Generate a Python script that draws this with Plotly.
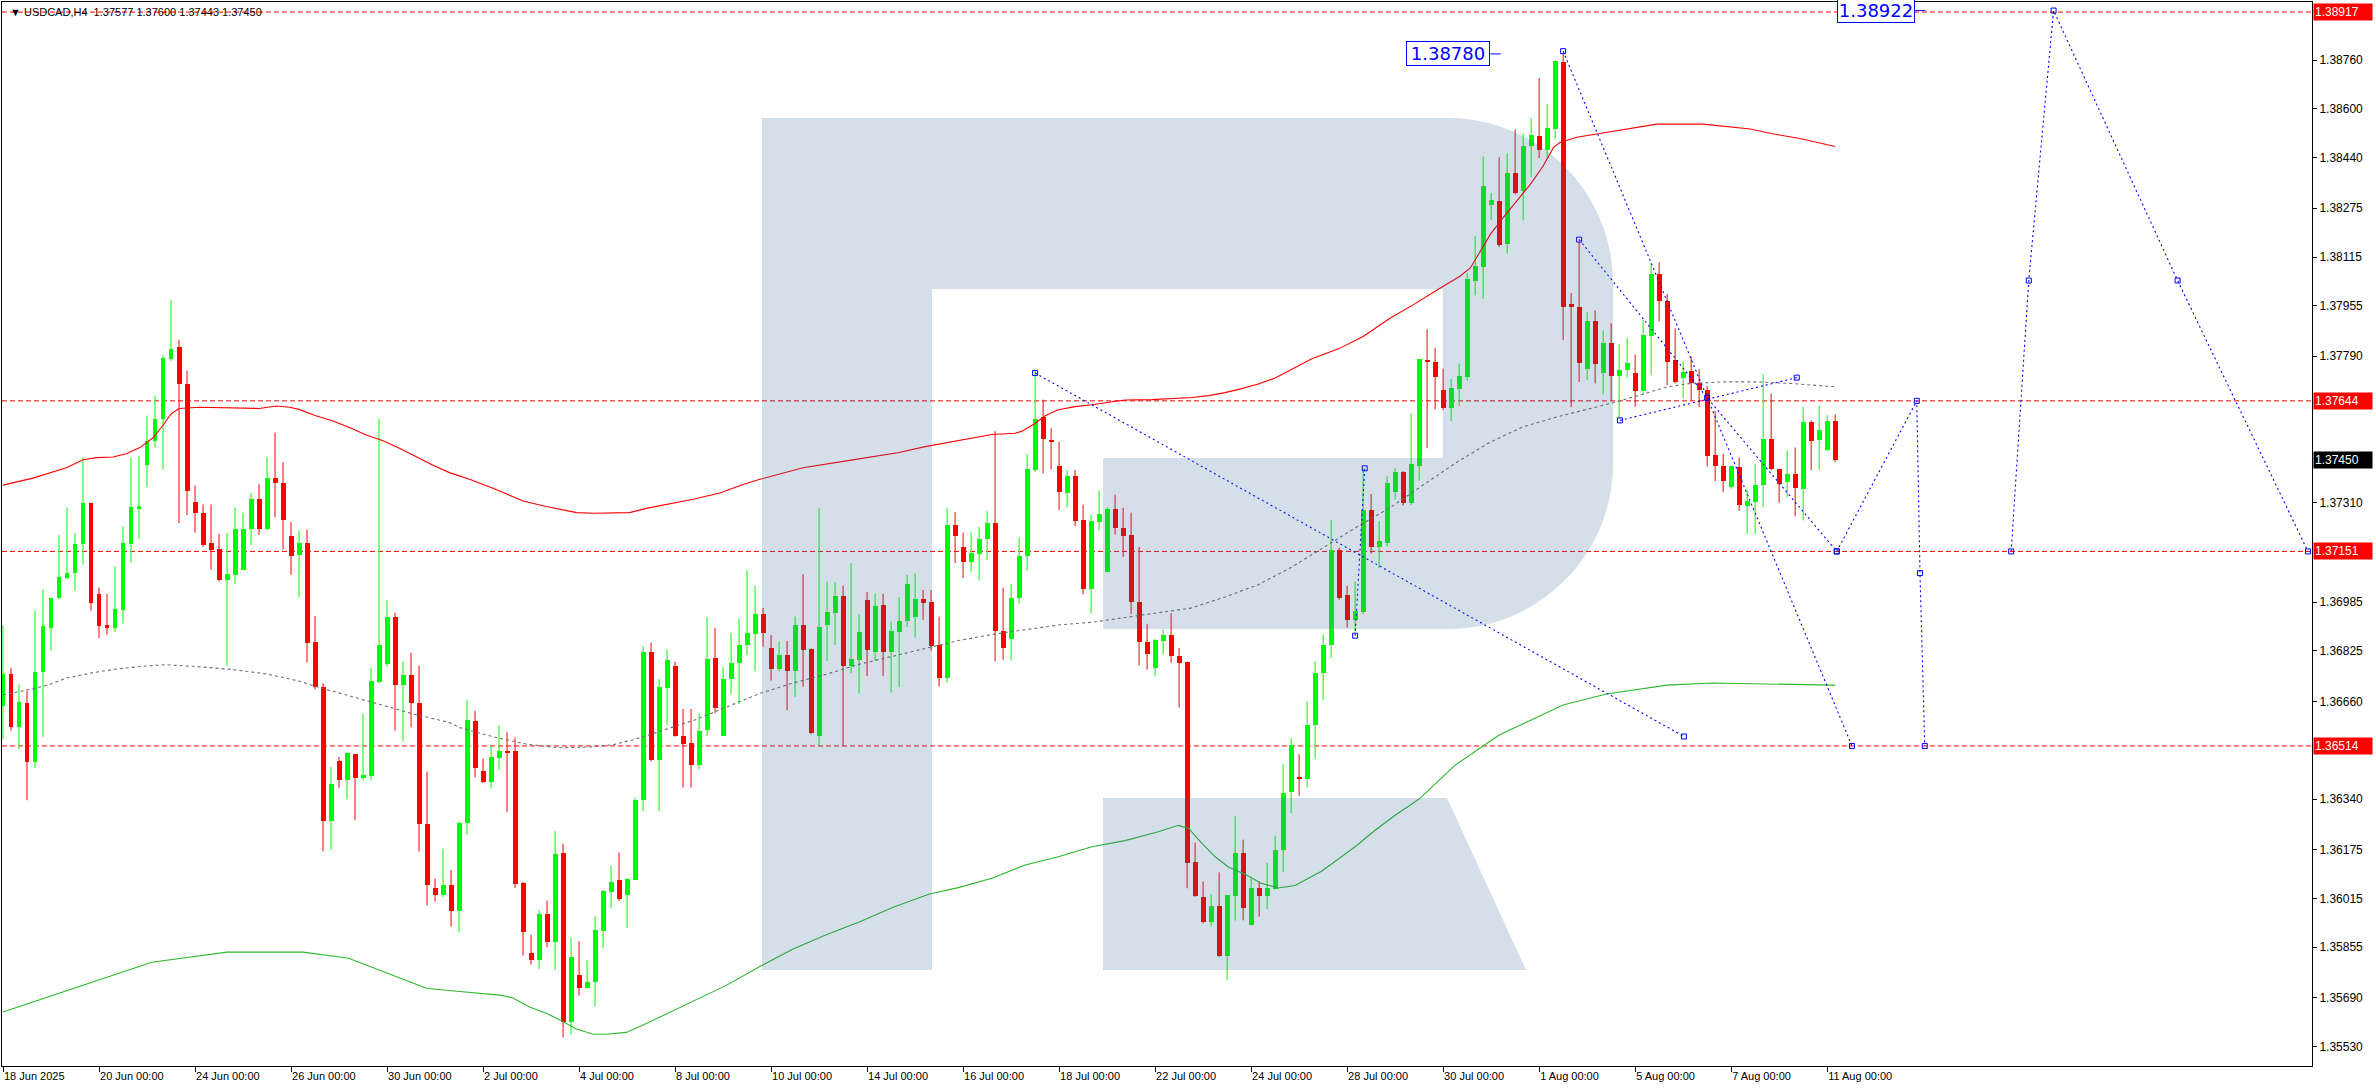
import plotly.graph_objects as go

# ---------------- DATA ----------------
opens = [1.36646,1.36750,1.36575,1.36653,1.36463,1.36757,1.36899,1.36998,1.37063,1.37080,
1.37176,1.37311,1.37012,1.36911,1.36899,1.36959,1.37176,1.37289,1.37433,1.37513,
1.37586,1.37781,1.37819,1.37698,1.37314,1.37277,1.37180,1.37159,1.37058,1.37074,
1.37091,1.37223,1.37321,1.37223,1.37390,1.37376,1.37202,1.37139,1.37180,1.36853,
1.36706,1.36267,1.36466,1.36401,1.36488,1.36409,1.36416,1.36722,1.36782,1.36937,
1.36715,1.36747,1.36653,1.36257,1.36049,1.36025,1.36058,1.35974,1.36261,1.36596,
1.36433,1.36395,1.36476,1.36499,1.36499,1.36064,1.35835,1.35813,1.35965,1.35873,
1.36164,1.35609,1.35763,1.35722,1.35742,1.35908,1.36036,1.36074,1.36026,1.36075,
1.36336,1.36822,1.36469,1.36704,1.36777,1.36547,1.36524,1.36453,1.36565,1.36803,
1.36547,1.36732,1.36784,1.36843,1.36882,1.36947,1.36835,1.36765,1.36812,1.36761,
1.36910,1.36830,1.36545,1.36909,1.36950,1.37005,1.36776,1.36797,1.36992,1.36823,
1.36975,1.36820,1.36888,1.36924,1.36935,1.36995,1.36986,1.36846,1.36735,1.37238,
1.37165,1.37115,1.37141,1.37191,1.37244,1.36891,1.36865,1.36998,1.37135,1.37419,
1.37591,1.37517,1.37431,1.37341,1.37398,1.37255,1.37029,1.37247,1.37085,1.37291,
1.37228,1.37206,1.36986,1.36855,1.36768,1.36859,1.36878,1.36807,1.36790,1.36135,
1.36020,1.35939,1.35990,1.35827,1.36024,1.36164,1.35929,1.36050,1.36022,1.36046,
1.36172,1.36362,1.36413,1.36407,1.36582,1.36752,1.36843,1.37156,1.37009,1.36926,
1.36953,1.37287,1.37167,1.37180,1.37345,1.37411,1.37309,1.37432,1.37777,1.37772,
1.37681,1.37622,1.37682,1.37722,1.38038,1.38083,1.38284,1.38299,1.38156,1.38391,
1.38330,1.38478,1.38510,1.38465,1.38534,1.38753,1.37961,1.37950,1.37748,1.37905,
1.37736,1.37832,1.37725,1.37745,1.37734,1.37676,1.37857,1.38059,1.37972,1.37777,
1.37720,1.37742,1.37703,1.37681,1.37468,1.37432,1.37361,1.37429,1.37301,1.37312,
1.37369,1.37520,1.37421,1.37378,1.37405,1.37354,1.37575,1.37515,1.37484,1.37577]

highs = [1.36908,1.36770,1.36715,1.36695,1.36957,1.37026,1.36998,1.37205,1.37295,1.37212,
1.37460,1.37311,1.37033,1.37012,1.37102,1.37233,1.37458,1.37463,1.37596,1.37661,
1.37792,1.37974,1.37844,1.37743,1.37367,1.37305,1.37305,1.37209,1.37212,1.37295,
1.37278,1.37343,1.37371,1.37460,1.37540,1.37443,1.37247,1.37220,1.37222,1.36939,
1.36719,1.36445,1.36478,1.36492,1.36488,1.36619,1.36770,1.37585,1.36991,1.36950,
1.36791,1.36819,1.36777,1.36430,1.36080,1.36177,1.36108,1.36267,1.36665,1.36629,
1.36473,1.36514,1.36582,1.36559,1.36542,1.36069,1.35896,1.35976,1.36007,1.36235,
1.36194,1.35887,1.35875,1.35812,1.35956,1.36043,1.36122,1.36165,1.36081,1.36344,
1.36841,1.36852,1.36734,1.36829,1.36790,1.36635,1.36635,1.36620,1.36936,1.36900,
1.36772,1.36884,1.36932,1.37090,1.37039,1.36966,1.36877,1.36856,1.36858,1.36938,
1.37076,1.36833,1.37292,1.37052,1.37050,1.37039,1.37112,1.36945,1.37018,1.37012,
1.37012,1.36921,1.37001,1.37074,1.37079,1.37025,1.37025,1.36937,1.37294,1.37280,
1.37212,1.37214,1.37231,1.37284,1.37545,1.37032,1.37045,1.37196,1.37470,1.37742,
1.37648,1.37554,1.37510,1.37418,1.37418,1.37304,1.37272,1.37351,1.37295,1.37337,
1.37294,1.37278,1.37165,1.36914,1.36865,1.36895,1.36948,1.36835,1.36790,1.36197,
1.36070,1.36028,1.36100,1.36026,1.36284,1.36207,1.36081,1.36070,1.36131,1.36220,
1.36454,1.36540,1.36487,1.36659,1.36791,1.36879,1.37254,1.37163,1.37038,1.37052,
1.37423,1.37339,1.37250,1.37397,1.37424,1.37414,1.37602,1.37780,1.37879,1.37818,
1.37750,1.37715,1.37766,1.38063,1.38183,1.38444,1.38325,1.38441,1.38454,1.38533,
1.38520,1.38570,1.38701,1.38616,1.38756,1.38780,1.37997,1.38165,1.37934,1.37940,
1.37875,1.37898,1.37829,1.37850,1.37796,1.37909,1.38094,1.38098,1.37994,1.37882,
1.37774,1.37789,1.37747,1.37692,1.37610,1.37471,1.37432,1.37459,1.37354,1.37438,
1.37731,1.37668,1.37421,1.37482,1.37491,1.37624,1.37580,1.37628,1.37597,1.37600]

lows = [1.36536,1.36564,1.36504,1.36336,1.36442,1.36543,1.36826,1.36994,1.37060,1.37022,
1.37108,1.36957,1.36867,1.36878,1.36888,1.36915,1.37115,1.37191,1.37361,1.37491,
1.37419,1.37775,1.37244,1.37270,1.37212,1.37166,1.37091,1.37053,1.36777,1.37044,
1.37091,1.37171,1.37205,1.37219,1.37263,1.37157,1.37074,1.37001,1.36787,1.36699,
1.36169,1.36173,1.36377,1.36339,1.36271,1.36401,1.36401,1.36719,1.36773,1.36564,
1.36529,1.36575,1.36169,1.35991,1.36004,1.36018,1.35922,1.35904,1.36223,1.36411,
1.36392,1.36375,1.36435,1.36297,1.36049,1.35828,1.35798,1.35784,1.35855,1.35781,
1.35560,1.35570,1.35697,1.35718,1.35661,1.35852,1.35983,1.36006,1.35918,1.36075,
1.36300,1.36463,1.36300,1.36583,1.36544,1.36378,1.36378,1.36437,1.36547,1.36621,
1.36547,1.36683,1.36651,1.36811,1.36758,1.36839,1.36728,1.36758,1.36631,1.36675,
1.36708,1.36552,1.36514,1.36793,1.36845,1.36514,1.36752,1.36686,1.36743,1.36793,
1.36743,1.36689,1.36706,1.36903,1.36869,1.36927,1.36826,1.36708,1.36721,1.37113,
1.37064,1.37084,1.37056,1.37124,1.36791,1.36796,1.36794,1.36980,1.37088,1.37411,
1.37406,1.37419,1.37286,1.37295,1.37234,1.37010,1.36948,1.37220,1.37085,1.37206,
1.37133,1.36946,1.36778,1.36764,1.36742,1.36814,1.36786,1.36640,1.36048,1.36020,
1.35933,1.35923,1.35823,1.35747,1.35942,1.35943,1.35926,1.35955,1.35979,1.36044,
1.36101,1.36294,1.36351,1.36378,1.36471,1.36665,1.36802,1.36993,1.36902,1.36889,
1.36946,1.37144,1.37097,1.37167,1.37321,1.37301,1.37303,1.37383,1.37489,1.37616,
1.37613,1.37578,1.37628,1.37710,1.37989,1.37978,1.38236,1.38148,1.38126,1.38320,
1.38235,1.38377,1.38439,1.38439,1.38501,1.37843,1.37624,1.37706,1.37712,1.37701,
1.37665,1.37646,1.37586,1.37720,1.37624,1.37665,1.37728,1.37904,1.37696,1.37701,
1.37652,1.37644,1.37624,1.37429,1.37381,1.37345,1.37356,1.37284,1.37208,1.37208,
1.37295,1.37416,1.37310,1.37327,1.37266,1.37252,1.37417,1.37417,1.37480,1.37443]

closes = [1.36750,1.36575,1.36657,1.36463,1.36757,1.36908,1.36998,1.37067,1.37080,1.37176,
1.37311,1.36982,1.36906,1.36899,1.36964,1.37180,1.37295,1.37299,1.37513,1.37586,
1.37785,1.37815,1.37699,1.37349,1.37276,1.37173,1.37157,1.37056,1.37076,1.37226,
1.37226,1.37321,1.37223,1.37390,1.37375,1.37253,1.37136,1.37180,1.36850,1.36706,
1.36267,1.36391,1.36401,1.36492,1.36409,1.36419,1.36726,1.36845,1.36937,1.36715,
1.36747,1.36653,1.36257,1.36058,1.36025,1.36058,1.35974,1.36263,1.36600,1.36443,
1.36395,1.36479,1.36499,1.36494,1.36062,1.35905,1.35813,1.35965,1.35873,1.36161,
1.35609,1.35824,1.35722,1.35742,1.35911,1.36038,1.36070,1.36013,1.36077,1.36338,
1.36822,1.36469,1.36706,1.36796,1.36548,1.36520,1.36453,1.36564,1.36799,1.36639,
1.36734,1.36785,1.36843,1.36884,1.36947,1.36885,1.36765,1.36812,1.36761,1.36910,
1.36827,1.36558,1.36904,1.36953,1.37005,1.36776,1.36799,1.36887,1.36827,1.36973,
1.36820,1.36891,1.36924,1.37043,1.36995,1.36983,1.36842,1.36735,1.37238,1.37203,
1.37115,1.37147,1.37192,1.37244,1.36889,1.36834,1.36998,1.37136,1.37422,1.37585,
1.37518,1.37508,1.37345,1.37398,1.37252,1.37029,1.37251,1.37274,1.37291,1.37228,
1.37203,1.36984,1.36853,1.36816,1.36862,1.36878,1.36807,1.36784,1.36132,1.36024,
1.35937,1.35990,1.35827,1.36026,1.36164,1.35983,1.36050,1.36022,1.36049,1.36173,
1.36360,1.36517,1.36407,1.36582,1.36752,1.36844,1.37156,1.36998,1.36925,1.36957,
1.37287,1.37167,1.37184,1.37375,1.37411,1.37309,1.37437,1.37780,1.37772,1.37721,
1.37622,1.37685,1.37727,1.38043,1.38085,1.38349,1.38302,1.38154,1.38391,1.38326,
1.38477,1.38515,1.38465,1.38536,1.38756,1.37952,1.37950,1.37768,1.37905,1.37765,
1.37832,1.37725,1.37745,1.37767,1.37676,1.37859,1.38059,1.37972,1.37772,1.37706,
1.37739,1.37703,1.37681,1.37465,1.37432,1.37380,1.37432,1.37303,1.37317,1.37367,
1.37518,1.37421,1.37372,1.37405,1.37358,1.37575,1.37511,1.37550,1.37578,1.37450]

# bar index of each date label (H4 bars) and label text
date_idx = [0, 12, 24, 36, 48, 60, 72, 84, 96, 108, 120, 132, 144, 156, 168, 180, 192, 204, 216, 228]
date_text = ["18 Jun 2025", "20 Jun 00:00", "24 Jun 00:00", "26 Jun 00:00", "30 Jun 00:00",
             "2 Jul 00:00", "4 Jul 00:00", "8 Jul 00:00", "10 Jul 00:00", "14 Jul 00:00",
             "16 Jul 00:00", "18 Jul 00:00", "22 Jul 00:00", "24 Jul 00:00", "28 Jul 00:00",
             "30 Jul 00:00", "1 Aug 00:00", "5 Aug 00:00", "7 Aug 00:00", "11 Aug 00:00"]

price_ticks = [1.38760, 1.38600, 1.38440, 1.38275, 1.38115, 1.37955, 1.37790,
               1.37310, 1.36985, 1.36825, 1.36660, 1.36340, 1.36175, 1.36015,
               1.35855, 1.35690, 1.35530]

# envelope-style bands (bar index, price)
upper_idx = [0, 3.75, 8, 10, 11.7, 13.75, 15.4, 17.1, 18.75, 20, 21, 22, 24.6, 26.7, 28.75, 32, 34.2, 35.8,
             37, 39, 41.25, 43.3, 45.4, 47.5, 49.6, 51.7, 53.75, 55.8, 58.3, 61.25, 65, 67.9, 71.7, 73.75,
             76.25, 78.3, 80.4, 82.9, 86.25, 89.6, 92.5, 94.6, 100, 106, 112, 115.25, 119.4, 123.6, 126.5,
             127.3, 129, 130.25, 131.9, 134, 136.1, 138.6, 140.25, 143.6, 146.5, 148.6, 150.7, 152.75,
             154.8, 156.9, 159, 161.1, 163.6, 167, 170, 173.4, 176.3, 179.6, 182.1, 183.4, 184.6, 185.9,
             187.5, 189.2, 190.9, 192.5, 193.8, 194.6, 196.7, 199.2, 202.5, 206.7, 212.5, 215, 218.4,
             221.3, 224.6, 229]
upper_val = [1.37368, 1.37391, 1.37426, 1.37451, 1.37458, 1.37460, 1.37471, 1.37491, 1.37523, 1.37564,
             1.37601, 1.37619, 1.37623, 1.37622, 1.37619, 1.37619, 1.37627, 1.37623, 1.37616, 1.37596,
             1.37578, 1.37557, 1.37532, 1.37513, 1.37488, 1.37460, 1.37433, 1.37409, 1.37387, 1.37358,
             1.37316, 1.37298, 1.37278, 1.37276, 1.37276, 1.37278, 1.37292, 1.37304, 1.37322, 1.37342,
             1.37370, 1.37387, 1.37425, 1.37450, 1.37475, 1.37494, 1.37514, 1.37534, 1.37538, 1.37544,
             1.37570, 1.37595, 1.37615, 1.37625, 1.37631, 1.37641, 1.37647, 1.37648, 1.37652, 1.37655,
             1.37661, 1.37671, 1.37684, 1.37699, 1.37719, 1.37748, 1.37782, 1.37815, 1.37855, 1.37915,
             1.37959, 1.38013, 1.38052, 1.38079, 1.38134, 1.38189, 1.38244, 1.38298, 1.38353, 1.38413,
             1.38474, 1.38490, 1.38507, 1.38518, 1.38531, 1.38550, 1.38550, 1.38544, 1.38534, 1.38518,
             1.38503, 1.38477]

lower_idx = [0, 9, 18.6, 28, 37.5, 43.2, 48.9, 53, 57.1, 62.1, 63.75, 65.8, 67.9, 69.6, 71.6, 73.75, 75.4,
             77.9, 80, 82.1, 86.25, 90.4, 94.6, 98.75, 102.9, 107.1, 111.25, 115.8, 119.4, 123.6, 127.75,
             131.9, 136.1, 140.25, 144.4, 146.9, 148.2, 149.8, 151.5, 153.2, 155.25, 157.3, 159.4, 161.5,
             164.8, 169, 171.5, 174, 177, 181.5, 187, 191, 195, 200.4, 208, 213.7, 229]
lower_val = [1.35643, 1.35721, 1.35806, 1.35839, 1.35839, 1.35819, 1.35760, 1.35720, 1.35710, 1.35698,
             1.35689, 1.35659, 1.35639, 1.35617, 1.35588, 1.35570, 1.35570, 1.35576, 1.35600, 1.35626,
             1.35677, 1.35730, 1.35792, 1.35849, 1.35896, 1.35938, 1.35986, 1.36029, 1.36050, 1.36081,
             1.36124, 1.36151, 1.36184, 1.36204, 1.36233, 1.36254, 1.36244, 1.36197, 1.36151, 1.36117,
             1.36094, 1.36064, 1.36049, 1.36057, 1.36104, 1.36184, 1.36238, 1.36287, 1.36340, 1.36451,
             1.36550, 1.36600, 1.36648, 1.36684, 1.36713, 1.36720, 1.36713]

mid_idx = [0, 3.75, 5.8, 7.9, 11.25, 14.2, 17.5, 20.4, 24.6, 28.75, 32.9, 37.1, 39.2, 43.3, 47.5, 51.7,
           55.8, 57.1, 61.25, 65.4, 69.6, 73.75, 76.25, 78.75, 82.1, 86.25, 90.4, 94.6, 98.75, 102.9,
           107.1, 111.25, 115.5, 119.4, 123.6, 127.75, 131.9, 136.1, 140.25, 144.4, 148.6, 152.75, 156.9,
           161.1, 165.25, 169.4, 173.4, 177.5, 181.7, 185.9, 190, 194.2, 198.4, 201.7, 204.6, 208, 210.9,
           215, 219.2, 223.4, 229]
mid_val = [1.36681, 1.36701, 1.36715, 1.36736, 1.36754, 1.36766, 1.36775, 1.36780, 1.36773, 1.36764,
           1.36750, 1.36726, 1.36708, 1.36678, 1.36646, 1.36616, 1.36591, 1.36574, 1.36544, 1.36520,
           1.36508, 1.36511, 1.36518, 1.36534, 1.36562, 1.36597, 1.36641, 1.36686, 1.36720, 1.36749,
           1.36782, 1.36808, 1.36837, 1.36859, 1.36879, 1.36895, 1.36910, 1.36919, 1.36935, 1.36950,
           1.36966, 1.37002, 1.37042, 1.37100, 1.37167, 1.37234, 1.37295, 1.37367, 1.37443, 1.37509,
           1.37559, 1.37591, 1.37619, 1.37641, 1.37663, 1.37690, 1.37701, 1.37706, 1.37706, 1.37701,
           1.37690]

# forecast polylines (bar index, price), None separates lines
fc_idx = [129, 210.1, None, 169, 170.2, None, 195, 231.1, None, 197, 213, 229.2, None,
          202.1, 224.2, None, 229.2, 239.2, 239.6, 240.2, None,
          251, 253.2, 256.3, 271.8, 288.1]
fc_val = [1.37735, 1.36545, None, 1.36875, 1.37423, None, 1.38789, 1.36514, None, 1.38172, 1.37654, 1.37151, None,
          1.37580, 1.37720, None, 1.37151, 1.37644, 1.37080, 1.36514, None,
          1.37151, 1.38038, 1.38922, 1.38038, 1.37151]

levels = [1.38917, 1.37644, 1.37151, 1.36514]
last_price = 1.37450
title_text = "USDCAD,H4  1.37577 1.37600 1.37443 1.37450"

# ---------------- FIGURE ----------------
W, H = 2376, 1090
ML, MR, MT, MB = 2, 64, 2, 24
PW, PH = W - ML - MR, H - MT - MB

fig = go.Figure()

n = len(opens)
up = [i for i in range(n) if closes[i] >= opens[i]]
dn = [i for i in range(n) if closes[i] < opens[i]]

def wick(ids):
    xs, ys = [], []
    for i in ids:
        xs += [i, i, None]
        ys += [lows[i], highs[i], None]
    return xs, ys

for ids, col in ((up, "#00FF00"), (dn, "#FF0000")):
    wx, wy = wick(ids)
    fig.add_trace(go.Scatter(x=wx, y=wy, mode="lines", line=dict(color=col, width=1),
                             hoverinfo="skip"))

fig.add_trace(go.Bar(x=up, base=[opens[i] for i in up], y=[closes[i] - opens[i] for i in up],
                     width=0.62, marker=dict(color="#00FF00", line=dict(width=0))))
fig.add_trace(go.Bar(x=dn, base=[closes[i] for i in dn], y=[opens[i] - closes[i] for i in dn],
                     width=0.62, marker=dict(color="#FF0000", line=dict(width=0))))

fig.add_trace(go.Scatter(x=upper_idx, y=upper_val, mode="lines", line=dict(color="#FF0000", width=1.1)))
fig.add_trace(go.Scatter(x=lower_idx, y=lower_val, mode="lines", line=dict(color="#2DB82D", width=1.1)))
fig.add_trace(go.Scatter(x=mid_idx, y=mid_val, mode="lines",
                         line=dict(color="#707070", width=1.1, dash="3px,3px")))

fig.add_trace(go.Scatter(x=fc_idx, y=fc_val, mode="lines+markers", connectgaps=False,
                         line=dict(color="#0000FF", width=1.1, dash="2px,3px"),
                         marker=dict(symbol="square-open", size=5, color="#0000FF", line=dict(width=1))))

def paper(X, Y):
    return f"{(X - ML) / PW:.5f},{1 - (Y - MT) / PH:.5f}"

k = 91
r_main = ("M " + paper(762, 118) + " L " + paper(1448, 118) +
          " C " + paper(1448 + k, 118) + " " + paper(1613, 283 - k) + " " + paper(1613, 283) +
          " L " + paper(1613, 464) +
          " C " + paper(1613, 464 + k) + " " + paper(1448 + k, 629) + " " + paper(1448, 629) +
          " L " + paper(1103, 629) + " L " + paper(1103, 458) + " L " + paper(1443, 458) +
          " L " + paper(1443, 289) + " L " + paper(932, 289) + " L " + paper(932, 970) +
          " L " + paper(762, 970) + " Z")
r_leg = ("M " + paper(1103, 798) + " L " + paper(1447, 798) + " L " + paper(1526, 970) +
         " L " + paper(1103, 970) + " Z")

shapes = []
for lv in levels:
    shapes.append(dict(type="line", xref="paper", x0=0, x1=1, yref="y", y0=lv, y1=lv,
                       line=dict(color="#FF0000", width=1, dash="5px,3px"), layer="below"))
for p in (r_main, r_leg):
    shapes.append(dict(type="path", xref="paper", yref="paper", path=p,
                       fillcolor="rgba(45,95,150,0.2)", line=dict(width=0), layer="above"))
# connectors of the boxed labels
shapes.append(dict(type="line", xref="x", yref="y", x0=185.9, x1=187.2, y0=1.38780, y1=1.38780,
                   line=dict(color="#0000FF", width=1)))
shapes.append(dict(type="line", xref="x", yref="y", x0=238.9, x1=240.3, y0=1.38922, y1=1.38922,
                   line=dict(color="#0000FF", width=1)))

annotations = []
for lv in levels:
    annotations.append(dict(x=1, xref="paper", xanchor="left", xshift=1, y=lv, yref="y", yanchor="middle",
                            text=f"{lv:.5f}", showarrow=False, bgcolor="#FF0000", borderpad=1,
                            width=56, align="left",
                            font=dict(family="Liberation Sans", size=12, color="white")))
annotations.append(dict(x=1, xref="paper", xanchor="left", xshift=1, y=last_price, yref="y", yanchor="middle",
                        text=f"{last_price:.5f}", showarrow=False, bgcolor="#000000", borderpad=1,
                        width=56, align="left",
                        font=dict(family="Liberation Sans", size=12, color="white")))
annotations.append(dict(x=0, xref="paper", xanchor="left", xshift=6, y=1 - 10 / PH, yref="paper",
                        yanchor="middle", text="▼ " + title_text, showarrow=False,
                        font=dict(family="Liberation Sans", size=11, color="black")))
annotations.append(dict(x=180.6, xref="x", y=1.38780, yref="y", text="1.38780", showarrow=False,
                        bgcolor="white", bordercolor="#0000FF", borderwidth=1, borderpad=1,
                        width=80, height=21,
                        font=dict(family="DejaVu Sans", size=18, color="#0000FF")))
annotations.append(dict(x=234.1, xref="x", y=1.38922, yref="y", text="1.38922", showarrow=False,
                        bgcolor="white", bordercolor="#0000FF", borderwidth=1, borderpad=1,
                        width=74, height=21,
                        font=dict(family="DejaVu Sans", size=18, color="#0000FF")))

fig.update_layout(
    width=W, height=H, autosize=False,
    margin=dict(l=ML, r=MR, t=MT, b=MB, pad=0),
    plot_bgcolor="white", paper_bgcolor="white",
    showlegend=False, barmode="overlay", bargap=0, hovermode=False,
    shapes=shapes, annotations=annotations,
    font=dict(family="Liberation Sans", color="black"),
    xaxis=dict(range=[-0.125, 288.6], tickmode="array", tickvals=date_idx, ticktext=date_text,
               ticks="outside", ticklen=5, tickcolor="black", ticklabelposition="outside right",
               showline=True, linecolor="black", linewidth=1, mirror=True,
               showgrid=False, zeroline=False, automargin=False,
               tickfont=dict(family="Liberation Sans", size=11, color="black")),
    yaxis=dict(range=[1.35466, 1.38950], side="right", tickmode="array", tickvals=price_ticks,
               ticktext=[f"{v:.5f}" for v in price_ticks],
               ticks="outside", ticklen=4, tickcolor="black",
               showline=True, linecolor="black", linewidth=1, mirror=True,
               showgrid=False, zeroline=False, automargin=False,
               tickfont=dict(family="Liberation Sans", size=12, color="black")),
)

fig.write_html("out.html", config={"displayModeBar": False},
               post_script="document.body.style.margin='0';document.body.style.overflow='hidden';")
